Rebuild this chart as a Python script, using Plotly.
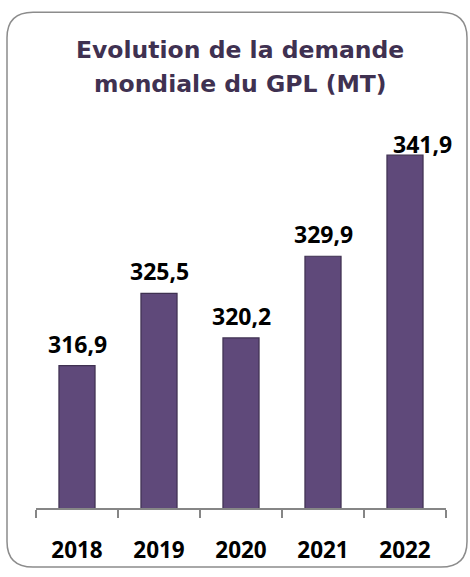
import plotly.graph_objects as go

# ---- data ----
years = ["2018", "2019", "2020", "2021", "2022"]
demand = [316.9, 325.5, 320.2, 329.9, 341.9]
title_lines = ["Evolution de la demande", "mondiale du GPL (MT)"]
y_range = [300, 350]

# ---- layout geometry (pixels) ----
W, H = 470, 577
L, R, T, B = 36, 24, 87, 62
PW = W - L - R
PH = H - T - B


def X(px):
    return (px - L) / PW


def Y(py):
    return (H - B - py) / PH


BAR_FILL = "#5F497A"
BAR_LINE = "#3F3151"
TITLE_COL = "#3F3151"
AXIS_COL = "#868686"

fig = go.Figure(
    go.Bar(
        x=years,
        y=demand,
        width=0.44,
        marker=dict(color=BAR_FILL, line=dict(color=BAR_LINE, width=1.2)),
        hoverinfo="skip",
    )
)

# value labels
annotations = []
for i, v in enumerate(demand):
    last = i == len(demand) - 1
    annotations.append(
        dict(
            x=i,
            y=v,
            xref="x",
            yref="y",
            text=f"{v:.1f}".replace(".", ","),
            showarrow=False,
            yanchor="bottom",
            xshift=17 if last else 0,
            yshift=-7 if last else 4,
            font=dict(family="Open Sans", size=23, color="#000000", weight="bold"),
        )
    )

# title (two lines)
for line, py in zip(title_lines, [49, 84]):
    annotations.append(
        dict(
            x=X(240),
            y=Y(py),
            xref="paper",
            yref="paper",
            text=line,
            showarrow=False,
            yanchor="middle",
            xanchor="center",
            font=dict(family="DejaVu Sans", size=23.5, color=TITLE_COL, weight="bold"),
        )
    )

# rounded border
x0, x1, y0, y1, r = 7, 467, 11, 575, 26
path = (
    f"M {X(x0 + r)},{Y(y0)} L {X(x1 - r)},{Y(y0)} "
    f"Q {X(x1)},{Y(y0)} {X(x1)},{Y(y0 + r)} "
    f"L {X(x1)},{Y(y1 - r)} Q {X(x1)},{Y(y1)} {X(x1 - r)},{Y(y1)} "
    f"L {X(x0 + r)},{Y(y1)} Q {X(x0)},{Y(y1)} {X(x0)},{Y(y1 - r)} "
    f"L {X(x0)},{Y(y0 + r)} Q {X(x0)},{Y(y0)} {X(x0 + r)},{Y(y0)} Z"
)

fig.update_layout(
    width=W,
    height=H,
    margin=dict(l=L, r=R, t=T, b=B),
    paper_bgcolor="white",
    plot_bgcolor="white",
    showlegend=False,
    annotations=annotations,
    shapes=[
        dict(
            type="path",
            path=path,
            xref="paper",
            yref="paper",
            line=dict(color="#8C8C8C", width=1.5),
            fillcolor="rgba(0,0,0,0)",
            layer="below",
        )
    ],
    xaxis=dict(
        type="category",
        range=[-0.5, 4.5],
        showline=True,
        linecolor=AXIS_COL,
        linewidth=1.5,
        ticks="outside",
        tickson="boundaries",
        ticklen=8,
        tickwidth=1.5,
        tickcolor=AXIS_COL,
        ticklabelstandoff=21,
        tickfont=dict(family="Open Sans", size=22.5, color="#000000", weight="bold"),
        showgrid=False,
        zeroline=False,
        fixedrange=True,
    ),
    yaxis=dict(
        range=y_range,
        visible=False,
        showgrid=False,
        zeroline=False,
        fixedrange=True,
    ),
)

fig.write_html(
    "out.html",
    config={"displayModeBar": False},
    post_script="document.body.style.margin='0';document.body.style.padding='0';",
)
